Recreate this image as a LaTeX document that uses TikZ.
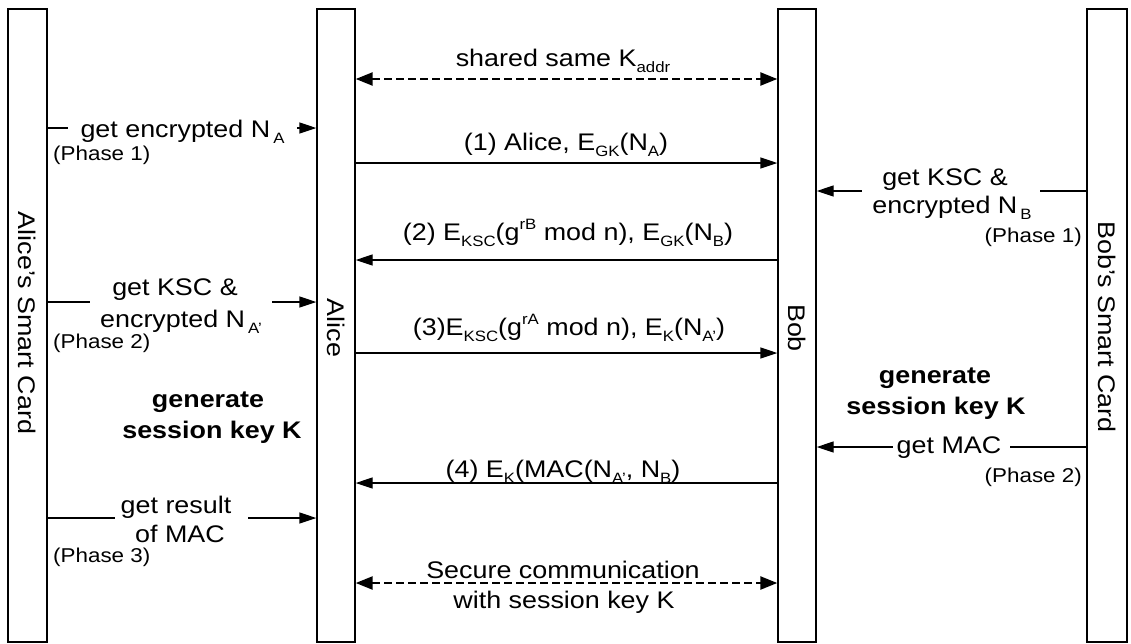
\documentclass[tikz,border=0pt]{standalone}
\usepackage{fontspec}
\setmainfont[FakeStretch=1.12]{Liberation Sans}
\usetikzlibrary{arrows.meta}
\newcommand{\lsub}[1]{\raisebox{-0.5ex}{\fontsize{15}{15}\selectfont #1}}
\newcommand{\hsup}[1]{\raisebox{0.85ex}{\fontsize{15}{15}\selectfont #1}}
\begin{document}
\begin{tikzpicture}[x=1pt,y=-1pt,
  box/.style={draw, line width=1.4pt, minimum height=633pt, inner sep=0pt},
  arr/.style={line width=1.4pt, -{Triangle[length=17pt,width=11pt]}},
  dsh/.style={line width=2.4pt, dash pattern=on 8pt off 4pt,
     {Triangle[length=17pt,width=13pt]}-{Triangle[length=17pt,width=13pt]}},
  lab/.style={font=\fontsize{24}{28}\selectfont, inner sep=0pt, anchor=base},
  boldlab/.style={font=\fontsize{24}{28}\selectfont\bfseries, inner sep=0pt, anchor=base},
  phaselab/.style={font=\fontsize{20}{22}\selectfont, inner sep=0pt},
  vlab/.style={font=\fontsize{24}{28}\selectfont, rotate=-90},
  gap/.style={fill=white, inner sep=0pt, minimum height=8pt}
]
\useasboundingbox (0,0) rectangle (1131,643);
% lifelines
\node[box, minimum width=39pt] (asc) at (27.5,325.5) {};
\node[box, minimum width=38pt] (alice) at (336,325.5) {};
\node[box, minimum width=38pt] (bob) at (797,325.5) {};
\node[box, minimum width=40pt] (bsc) at (1107,325.5) {};
\node[vlab] (lasc) at (27.5,323) {Alice's Smart Card};
\node[vlab] (lalice) at (336,328) {Alice};
\node[vlab] (lbob) at (797,328) {Bob};
\node[vlab] (lbsc) at (1107,327) {Bob's Smart Card};
% row coordinates
\coordinate (yDt) at (0,79);
\coordinate (yA1) at (0,128);
\coordinate (yM1) at (0,163);
\coordinate (yB1) at (0,191);
\coordinate (yM2) at (0,260);
\coordinate (yA2) at (0,302);
\coordinate (yM3) at (0,353);
\coordinate (yB2) at (0,447);
\coordinate (yM4) at (0,483);
\coordinate (yA3) at (0,518);
\coordinate (yDb) at (0,583);
% connectors
\draw[dsh] (alice.east |- yDt) -- (bob.west |- yDt);
\draw[arr] (asc.east |- yA1) -- (alice.west |- yA1);
\draw[arr] (alice.east |- yM1) -- (bob.west |- yM1);
\draw[arr] (bsc.west |- yB1) -- (bob.east |- yB1);
\draw[arr] (bob.west |- yM2) -- (alice.east |- yM2);
\draw[arr] (asc.east |- yA2) -- (alice.west |- yA2);
\draw[arr] (alice.east |- yM3) -- (bob.west |- yM3);
\draw[arr] (bsc.west |- yB2) -- (bob.east |- yB2);
\draw[arr] (bob.west |- yM4) -- (alice.east |- yM4);
\draw[arr] (asc.east |- yA3) -- (alice.west |- yA3);
\draw[dsh] (alice.east |- yDb) -- (bob.west |- yDb);
% gaps in the side arrows
\node[gap, minimum width=229pt] (g1) at (182.5,128) {};
\node[gap, minimum width=178pt] (g2) at (951,191) {};
\node[gap, minimum width=182pt] (g3) at (181,302) {};
\node[gap, minimum width=117pt] (g4) at (951.5,447) {};
\node[gap, minimum width=133pt] (g5) at (181.5,518) {};
% message labels
\node[lab] (tsh) at (563,66) {shared same K\lsub{addr}};
\node[lab] (t1) at (566,150) {(1) Alice, E\lsub{GK}(N\lsub{A})};
\node[lab] (t2) at (568,240) {(2) E\lsub{KSC}(g\hsup{rB} mod n), E\lsub{GK}(N\lsub{B})};
\node[lab] (t3) at (569,335) {(3)E\lsub{KSC}(g\hsup{rA} mod n), E\lsub{K}(N\lsub{A'})};
\node[lab] (t4) at (563,477) {(4) E\lsub{K}(MAC(N\lsub{A'}, N\lsub{B})};
\node[lab] (ts1) at (563,578) {Secure communication};
\node[lab] (ts2) at (564,608) {with session key K};
% side labels
\node[lab] (a1) at (182.5,137) {get encrypted N\hspace{3pt}\lsub{A}};
\node[lab] (b1a) at (945,185) {get KSC \&};
\node[lab] (b1b) at (952,213) {encrypted N\hspace{3pt}\lsub{B}};
\node[lab] (a2a) at (175,295) {get KSC \&};
\node[lab] (a2b) at (181,327) {encrypted N\hspace{3pt}\lsub{A'}};
\node[boldlab] (ag1) at (208,407) {generate};
\node[boldlab] (ag2) at (212,438) {session key K};
\node[boldlab] (bg1) at (935,383) {generate};
\node[boldlab] (bg2) at (936,414) {session key K};
\node[lab] (b2) at (949,453) {get MAC};
\node[lab] (a3a) at (176,513) {get result};
\node[lab] (a3b) at (180,542) {of MAC};
% phase labels
\node[phaselab, anchor=base west] (p1a) at (53,160) {(Phase 1)};
\node[phaselab, anchor=base west] (p2a) at (53,348) {(Phase 2)};
\node[phaselab, anchor=base west] (p3a) at (53,562) {(Phase 3)};
\node[phaselab, anchor=base east] (p1b) at (1082,242) {(Phase 1)};
\node[phaselab, anchor=base east] (p2b) at (1082,482) {(Phase 2)};
\end{tikzpicture}
\end{document}
